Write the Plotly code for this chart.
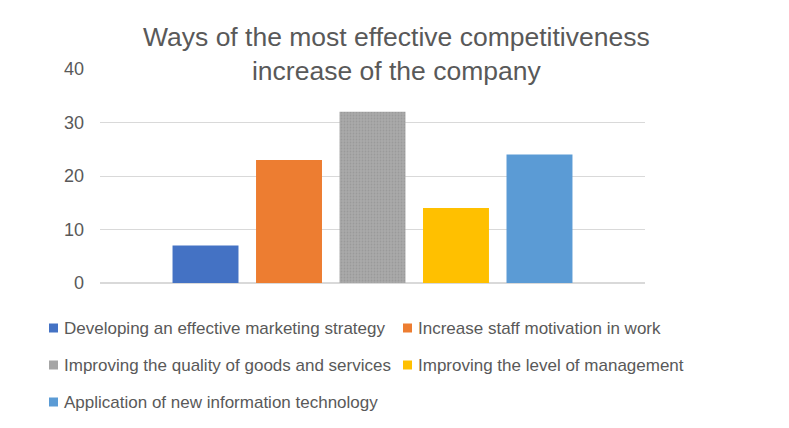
import plotly.graph_objects as go

categories = ["Developing an effective marketing strategy",
              "Increase staff motivation in work",
              "Improving the quality of goods and services",
              "Improving the level of management",
              "Application of new information technology"]
values = [7, 23, 32, 14, 24]
colors = ["#4472C4", "#ED7D31", "#A5A5A5", "#FFC000", "#5B9BD5"]
y_ticks = [0, 10, 20, 30, 40]

# page body adds an 8px offset, so the figure is a bit smaller than the window
OFF = 8
W, H = 789 - OFF, 428 - OFF
L, R, T, B = 100 - OFF, 144, 69 - OFF, 145
pw, ph = W - L - R, H - T - B

def px_x(x):
    return (x - OFF - L) / pw

def px_y(y):
    return (H - B - (y - OFF)) / ph

fig = go.Figure()
for name, v, c in zip(categories, values, colors):
    marker = dict(color=c, line=dict(width=0))
    if c == "#A5A5A5":
        marker["pattern"] = dict(shape=".", fgcolor="#8C8C8C", bgcolor="#A9A9A9",
                                 size=3, solidity=0.3)
    fig.add_trace(go.Bar(x=["all"], y=[v], name=name, marker=marker))

# legend drawn as text, laid out like the original two-column block
font = "Liberation Sans"
rows = [(0, 0), (0, 1), (1, 0), (1, 1), (2, 0)]
for (r, col), name, c in zip(rows, categories, colors):
    cy = 328 + 37 * r
    mx = 49 + 354 * col
    fig.add_shape(type="rect", xref="paper", yref="paper",
                  x0=px_x(mx), x1=px_x(mx + 9), y0=px_y(cy + 4.5), y1=px_y(cy - 4.5),
                  fillcolor=c, line=dict(width=0))
    fig.add_annotation(text=name, xref="paper", yref="paper", x=px_x(mx + 13), y=px_y(cy),
                       xanchor="left", yanchor="middle", showarrow=False,
                       font=dict(family=font, size=17, color="#595959"))

fig.add_annotation(text="Ways of the most effective competitiveness<br>increase of the company",
                   xref="paper", yref="paper", x=px_x(396), y=px_y(54), xanchor="center",
                   yanchor="middle", showarrow=False, align="center",
                   font=dict(family=font, size=26.5, color="#595959"))

fig.update_layout(
    width=W, height=H, margin=dict(l=L, r=R, t=T, b=B),
    paper_bgcolor="white", plot_bgcolor="white",
    barmode="group", bargap=0.234, bargroupgap=0.21,
    showlegend=False,
    xaxis=dict(showticklabels=False, showgrid=False, zeroline=False, showline=False, ticks=""),
    yaxis=dict(range=[0, 40], tickvals=y_ticks, showgrid=True, gridcolor="#D9D9D9",
               gridwidth=1, zeroline=True, zerolinecolor="#D9D9D9", showline=False,
               ticks="", ticklabelstandoff=15,
               tickfont=dict(family=font, size=18, color="#595959")),
)

fig.write_html("out.html")
